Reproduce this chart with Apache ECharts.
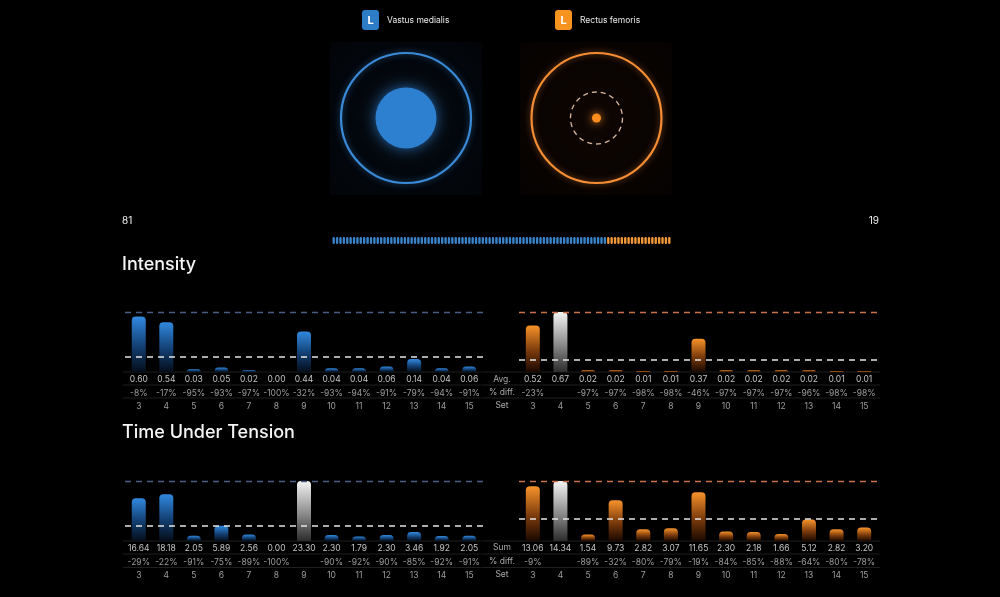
<!DOCTYPE html>
<html>
<head>
<meta charset="utf-8">
<script src="https://cdn.jsdelivr.net/npm/echarts@6/dist/echarts.min.js"></script>
<style>
html,body{margin:0;padding:0;background:#000;}
#main{width:1000px;height:597px;}
</style>
</head>
<body>
<div id="main"></div>
<script>
// muscles / activation share
var muscles = ['Vastus medialis', 'Rectus femoris'];
var share = [81, 19];

// set numbers
var sets = ['3','4','5','6','7','8','9','10','11','12','13','14','15'];

// intensity (avg.)
var intL = [0.60, 0.54, 0.03, 0.05, 0.02, 0.00, 0.44, 0.04, 0.04, 0.06, 0.14, 0.04, 0.06];
var intLPct = ['-8%','-17%','-95%','-93%','-97%','-100%','-32%','-93%','-94%','-91%','-79%','-94%','-91%'];
var intR = [0.52, 0.67, 0.02, 0.02, 0.01, 0.01, 0.37, 0.02, 0.02, 0.02, 0.02, 0.01, 0.01];
var intRPct = ['-23%','','-97%','-97%','-98%','-98%','-46%','-97%','-97%','-97%','-96%','-98%','-98%'];
var intRef = [0.65, 0.67];
var intAvg = [0.175, 0.14];

// time under tension (sum)
var tutL = [16.64, 18.18, 2.05, 5.89, 2.56, 0.00, 23.30, 2.30, 1.79, 2.30, 3.46, 1.92, 2.05];
var tutLPct = ['-29%','-22%','-91%','-75%','-89%','-100%','','-90%','-92%','-90%','-85%','-92%','-91%'];
var tutR = [13.06, 14.34, 1.54, 9.73, 2.82, 3.07, 11.65, 2.30, 2.18, 1.66, 5.12, 2.82, 3.20];
var tutRPct = ['-9%','','-89%','-32%','-80%','-79%','-19%','-84%','-85%','-88%','-64%','-80%','-78%'];
var tutRef = [23.30, 14.34];
var tutAvg = [5.9, 5.3];

var FONT = 'Inter, "Noto Sans", sans-serif';

function grad(top, bottom){
	return new echarts.graphic.LinearGradient(0, 0, 0, 1, [
		{offset: 0, color: top},
		{offset: 0.55, color: bottom[0]},
		{offset: 1, color: bottom[1]}
	]);
}
var blueGrad = grad('#3189e0', ['#123e70', '#050d1a']);
var orangeGrad = grad('#f7922a', ['#7a3a0c', '#1a0800']);
var grayGrad = grad('#f4f4f4', ['#8a8a8a', '#2c2c2c']);

function barData(vals, pct, base){
	return vals.map(function(v, i){
		return {value: v, itemStyle: {color: pct[i] === '' ? grayGrad : base}};
	});
}

var richRows = {
	v: {color: '#c4c4c4', fontSize: 8.5, fontFamily: FONT, lineHeight: 13.5},
	p: {color: '#9c9c9c', fontSize: 8.5, fontFamily: FONT, lineHeight: 13.5},
	s: {color: '#9c9c9c', fontSize: 8.5, fontFamily: FONT, lineHeight: 13.5}
};

function xAx(gi, vals, pct){
	return {
		type: 'category', gridIndex: gi, data: sets,
		axisLine: {show: false}, axisTick: {show: false},
		axisLabel: {
			margin: 1, interval: 0, rich: richRows,
			formatter: function(val, idx){
				return '{v|' + vals[idx].toFixed(2) + '}\n{p|' + (pct[idx] || ' ') + '}\n{s|' + val + '}';
			}
		}
	};
}
function yAx(gi, max){
	return {type: 'value', gridIndex: gi, min: 0, max: max, show: false, splitLine: {show: false}};
}
function barSeries(gi, vals, pct, base, ref, avg, refColor){
	return {
		type: 'bar', xAxisIndex: gi, yAxisIndex: gi, barWidth: 14,
		data: barData(vals, pct, base),
		itemStyle: {borderRadius: [4, 4, 0, 0]},
		markLine: {
			silent: true, symbol: 'none', label: {show: false},
			data: [
				{yAxis: ref, lineStyle: {color: refColor, type: [6, 5], width: 1.3}},
				{yAxis: avg, lineStyle: {color: '#e6e6e6', type: [6, 5], width: 1.5}}
			]
		}
	};
}

// dot strip built from share counts
var dotCats = [], dotData = [];
var total = share[0] + share[1];
for (var i = 0; i < total; i++) {
	dotCats.push(i);
	dotData.push({value: 1, itemStyle: {color: i < share[0] ? '#3a82c8' : '#f39838'}});
}

function rowLines(x1, x2, ys){
	return ys.map(function(y){
		return {type: 'line', shape: {x1: x1, y1: y, x2: x2, y2: y}, style: {stroke: '#1f1f1f', lineWidth: 1}};
	});
}
function rowText(x, ys, labels){
	return ys.map(function(y, i){
		return {type: 'text', x: x, y: y, style: {text: labels[i], fill: '#a8a8a8', font: '8.5px ' + FONT, textAlign: 'center', textVerticalAlign: 'middle'}};
	});
}

var graphics = [
	// faint panels behind circles
	{type: 'rect', shape: {x: 330, y: 42, width: 152, height: 153}, style: {fill: new echarts.graphic.RadialGradient(0.5, 0.5, 0.7, [{offset: 0, color: '#040a12'}, {offset: 1, color: '#020408'}])}},
	{type: 'rect', shape: {x: 520, y: 42, width: 152, height: 153}, style: {fill: new echarts.graphic.RadialGradient(0.5, 0.5, 0.7, [{offset: 0, color: '#0e0603'}, {offset: 1, color: '#050201'}])}},
	// legend
	{type: 'rect', shape: {x: 362, y: 10, width: 17, height: 20, r: 3}, style: {fill: '#2f7cc6'}},
	{type: 'text', x: 370.5, y: 20.5, style: {text: 'L', fill: '#fff', font: 'bold 11px ' + FONT, textAlign: 'center', textVerticalAlign: 'middle'}},
	{type: 'text', x: 387, y: 20, style: {text: muscles[0], fill: '#e8e8e8', font: '8.5px ' + FONT, textVerticalAlign: 'middle'}},
	{type: 'rect', shape: {x: 555, y: 10, width: 17, height: 20, r: 3}, style: {fill: '#f7931e'}},
	{type: 'text', x: 563.5, y: 20.5, style: {text: 'L', fill: '#fff', font: 'bold 11px ' + FONT, textAlign: 'center', textVerticalAlign: 'middle'}},
	{type: 'text', x: 580, y: 20, style: {text: muscles[1], fill: '#e8e8e8', font: '8.5px ' + FONT, textVerticalAlign: 'middle'}},
	// vastus medialis circle
	{type: 'circle', shape: {cx: 406, cy: 118, r: 65}, style: {fill: 'none', stroke: '#3a8ad8', lineWidth: 2.2, shadowBlur: 6, shadowColor: 'rgba(58,138,216,0.6)'}},
	{type: 'circle', shape: {cx: 406, cy: 118, r: 30.5}, style: {fill: '#2d7fcf', shadowBlur: 14, shadowColor: 'rgba(45,127,207,0.8)'}},
	// rectus femoris circle
	{type: 'circle', shape: {cx: 596.5, cy: 118, r: 65}, style: {fill: 'none', stroke: '#f58d34', lineWidth: 2.2, shadowBlur: 6, shadowColor: 'rgba(245,141,52,0.6)'}},
	{type: 'circle', shape: {cx: 596.5, cy: 118, r: 26}, style: {fill: 'none', stroke: '#d9b89e', lineWidth: 1.3, lineDash: [5, 4]}},
	{type: 'circle', shape: {cx: 596.5, cy: 118, r: 4.5}, style: {fill: '#ff8e1f', shadowBlur: 8, shadowColor: 'rgba(255,142,31,0.9)'}},
	// share numbers
	{type: 'text', x: 122, y: 221, style: {text: String(share[0]), fill: '#f0f0f0', font: '10px ' + FONT, textVerticalAlign: 'middle'}},
	{type: 'text', x: 879, y: 221, style: {text: String(share[1]), fill: '#f0f0f0', font: '10px ' + FONT, textAlign: 'right', textVerticalAlign: 'middle'}},
	// section titles
	{type: 'text', x: 122, y: 265, style: {text: 'Intensity', fill: '#f4f4f4', font: '500 18px ' + FONT, textVerticalAlign: 'middle'}},
	{type: 'text', x: 122, y: 433, style: {text: 'Time Under Tension', fill: '#f4f4f4', font: '500 18px ' + FONT, textVerticalAlign: 'middle'}}
];
graphics = graphics
	.concat(rowLines(123, 481, [372, 385, 398]))
	.concat(rowLines(482, 880, [372, 385, 398]))
	.concat(rowLines(123, 481, [541, 554, 567.5]))
	.concat(rowLines(482, 880, [541, 554, 567.5]))
	.concat(rowText(502, [379, 392, 405], ['Avg.', '% diff.', 'Set']))
	.concat(rowText(502, [547.5, 561, 574.5], ['Sum', '% diff.', 'Set']));

var myChart = echarts.init(document.getElementById('main'));
var option = {
	backgroundColor: '#000',
	animation: false,
	grid: [
		{left: 125, top: 312, width: 358, height: 60},
		{left: 519, top: 312, width: 359, height: 60},
		{left: 125, top: 481, width: 358, height: 60},
		{left: 519, top: 481, width: 359, height: 60},
		{left: 332, top: 237, width: 339, height: 7}
	],
	xAxis: [
		xAx(0, intL, intLPct),
		xAx(1, intR, intRPct),
		xAx(2, tutL, tutLPct),
		xAx(3, tutR, tutRPct),
		{type: 'category', gridIndex: 4, data: dotCats, show: false}
	],
	yAxis: [
		yAx(0, intRef[0]),
		yAx(1, intRef[1]),
		yAx(2, tutRef[0]),
		yAx(3, tutRef[1]),
		{type: 'value', gridIndex: 4, min: 0, max: 1, show: false}
	],
	series: [
		barSeries(0, intL, intLPct, blueGrad, intRef[0], intAvg[0], '#4a5d88'),
		barSeries(1, intR, intRPct, orangeGrad, intRef[1], intAvg[1], '#c9704e'),
		barSeries(2, tutL, tutLPct, blueGrad, tutRef[0], tutAvg[0], '#4a5d88'),
		barSeries(3, tutR, tutRPct, orangeGrad, tutRef[1], tutAvg[1], '#c9704e'),
		{
			type: 'bar', xAxisIndex: 4, yAxisIndex: 4, barWidth: 2.4,
			itemStyle: {borderRadius: 1.2}, data: dotData
		}
	],
	graphic: graphics
};
myChart.setOption(option);
</script>
</body>
</html>
